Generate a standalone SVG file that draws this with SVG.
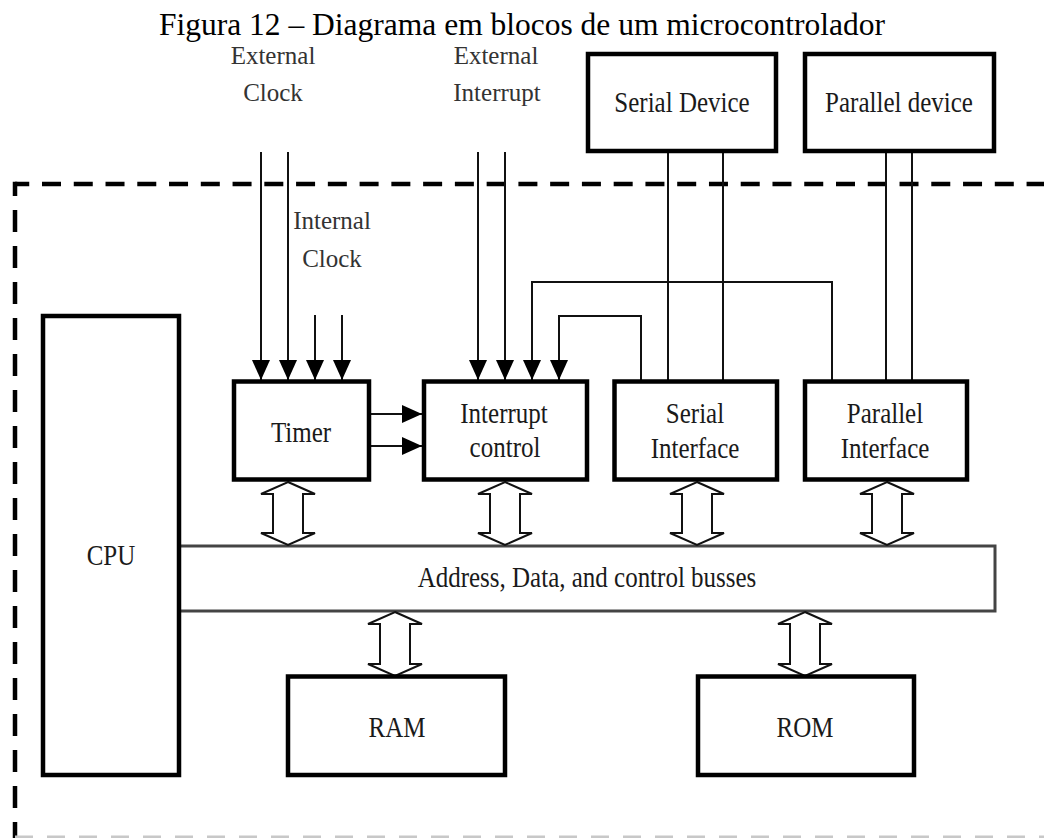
<svg xmlns="http://www.w3.org/2000/svg" width="1044" height="838" viewBox="0 0 1044 838">
<style>
.box{fill:#fff;stroke:#000;stroke-width:4.5}
.bus{fill:#fff;stroke:#444;stroke-width:3}
.ln{fill:none;stroke:#111;stroke-width:2}
.dbl{fill:#fff;stroke:#111;stroke-width:2;stroke-linejoin:miter}
.lbl{font-family:"Liberation Serif","Times New Roman",serif;font-size:25px;fill:#1a1a1a;text-anchor:middle}
.ext{font-family:"Liberation Serif","Times New Roman",serif;font-size:25px;fill:#333;text-anchor:middle}
.title{font-family:"Liberation Serif","Times New Roman",serif;font-size:31.5px;fill:#000;text-anchor:middle}
</style>
<defs>
<marker id="ah" markerUnits="userSpaceOnUse" markerWidth="20" markerHeight="18" refX="20" refY="9" orient="auto"><path d="M0,0 L20,9 L0,18 z" fill="#000"/></marker>
</defs>
<rect width="1044" height="838" fill="#fff"/>
<text class="title" x="522" y="35">Figura 12 – Diagrama em blocos de um microcontrolador</text>

<g id="boundary">
<path d="M15,184 H1044" fill="none" stroke="#000" stroke-width="4.5" stroke-dasharray="19 12.76" stroke-dashoffset="4.76"/>
<path d="M15,181.75 V838" fill="none" stroke="#000" stroke-width="4.5" stroke-dasharray="22 14" stroke-dashoffset="7.75"/>
<path d="M15,837 H1044" fill="none" stroke="#c8c8c8" stroke-width="3" stroke-dasharray="18 14"/>
</g>

<g id="labels-external">
<text class="ext" x="273" y="64">External</text>
<text class="ext" x="273" y="101">Clock</text>
<text class="ext" x="496" y="64">External</text>
<text class="ext" x="497" y="101">Interrupt</text>
<text class="ext" x="332" y="229">Internal</text>
<text class="ext" x="332" y="267">Clock</text>
</g>

<g id="bus">
<rect class="bus" x="179" y="546" width="816" height="65"/>
<text class="lbl" transform="translate(587,587) scale(1,1.18)">Address, Data, and control busses</text>
</g>

<g id="connectors">
<path class="ln" d="M261,152 V380" marker-end="url(#ah)"/>
<path class="ln" d="M288,152 V380" marker-end="url(#ah)"/>
<path class="ln" d="M315,315 V380" marker-end="url(#ah)"/>
<path class="ln" d="M342,315 V380" marker-end="url(#ah)"/>
<path class="ln" d="M478,152 V380" marker-end="url(#ah)"/>
<path class="ln" d="M505,152 V380" marker-end="url(#ah)"/>
<path class="ln" d="M832,381 V282 H532 V380" marker-end="url(#ah)"/>
<path class="ln" d="M641,381 V316 H559 V380" marker-end="url(#ah)"/>
<path class="ln" d="M668,152 V381"/>
<path class="ln" d="M723,152 V381"/>
<path class="ln" d="M886,152 V381"/>
<path class="ln" d="M912,152 V381"/>
<path class="ln" d="M371,414 H422" marker-end="url(#ah)"/>
<path class="ln" d="M371,446 H422" marker-end="url(#ah)"/>
<polygon class="dbl" points="288,482 315,494 303,494 303,533 315,533 288,545 261,533 273,533 273,494 261,494"/>
<polygon class="dbl" points="505,482 532,494 520,494 520,533 532,533 505,545 478,533 490,533 490,494 478,494"/>
<polygon class="dbl" points="697,482 724,494 712,494 712,533 724,533 697,545 670,533 682,533 682,494 670,494"/>
<polygon class="dbl" points="887,482 914,494 902,494 902,533 914,533 887,545 860,533 872,533 872,494 860,494"/>
<polygon class="dbl" points="395,612 422,624 410,624 410,664 422,664 395,676 368,664 380,664 380,624 368,624"/>
<polygon class="dbl" points="805,612 832,624 820,624 820,664 832,664 805,676 778,664 790,664 790,624 778,624"/>
</g>

<g id="serial-device">
<rect class="box" x="588" y="54" width="188" height="97"/>
<text class="lbl" transform="translate(682,112) scale(1,1.15)">Serial Device</text>
</g>
<g id="parallel-device">
<rect class="box" x="805" y="54" width="189" height="97"/>
<text class="lbl" transform="translate(899,112) scale(1,1.15)">Parallel device</text>
</g>
<g id="cpu">
<rect class="box" x="43" y="316" width="136" height="459"/>
<text class="lbl" transform="translate(111,565) scale(1,1.18)">CPU</text>
</g>
<g id="timer">
<rect class="box" x="234" y="381.5" width="135" height="98"/>
<text class="lbl" transform="translate(301,442) scale(1,1.18)">Timer</text>
</g>
<g id="interrupt-control">
<rect class="box" x="424" y="381.5" width="163" height="98"/>
<text class="lbl" transform="translate(504,423) scale(1,1.18)">Interrupt</text>
<text class="lbl" transform="translate(505,457) scale(1,1.18)">control</text>
</g>
<g id="serial-interface">
<rect class="box" x="614.5" y="381.5" width="162.5" height="98"/>
<text class="lbl" transform="translate(695,423) scale(1,1.18)">Serial</text>
<text class="lbl" transform="translate(695,458) scale(1,1.18)">Interface</text>
</g>
<g id="parallel-interface">
<rect class="box" x="805" y="381.5" width="162" height="98"/>
<text class="lbl" transform="translate(885,423) scale(1,1.18)">Parallel</text>
<text class="lbl" transform="translate(885,458) scale(1,1.18)">Interface</text>
</g>
<g id="ram">
<rect class="box" x="288" y="676.5" width="217" height="98.5"/>
<text class="lbl" transform="translate(397,737) scale(1,1.18)">RAM</text>
</g>
<g id="rom">
<rect class="box" x="698" y="676.5" width="216" height="98.5"/>
<text class="lbl" transform="translate(805,737) scale(1,1.18)">ROM</text>
</g>
</svg>
